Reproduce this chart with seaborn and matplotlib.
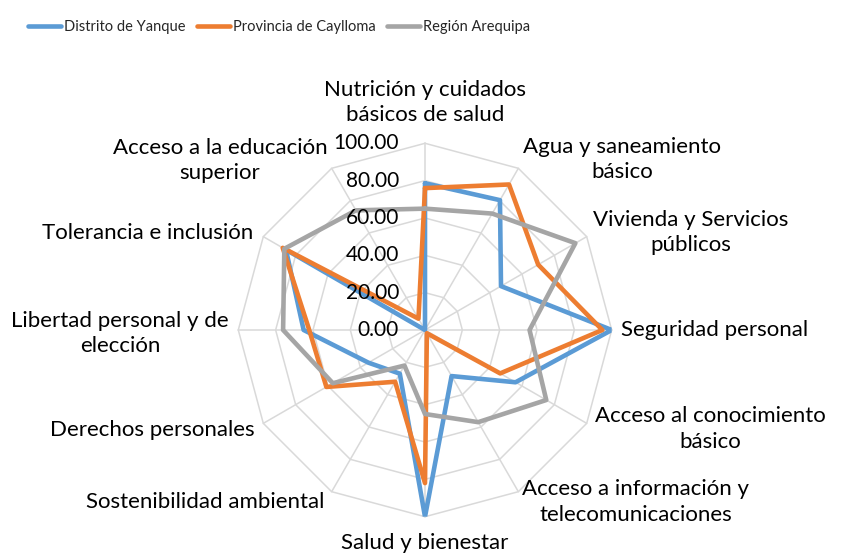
import numpy as np
import pandas as pd
import matplotlib
matplotlib.use("Agg")
import matplotlib.pyplot as plt
from matplotlib.transforms import offset_copy
import seaborn as sns

# Dimensions of the Social Progress Index, clockwise from the top
categories = [
    "Nutrición y cuidados\nbásicos de salud",
    "Agua y saneamiento\nbásico",
    "Vivienda y Servicios\npúblicos",
    "Seguridad personal",
    "Acceso al conocimiento\nbásico",
    "Acceso a información y\ntelecomunicaciones",
    "Salud y bienestar",
    "Sostenibilidad ambiental",
    "Derechos personales",
    "Libertad personal y de\nelección",
    "Tolerancia e inclusión",
    "Acceso a la educación\nsuperior",
]
series_names = ["Distrito de Yanque", "Provincia de Caylloma", "Región Arequipa"]
distrito = [78.6, 80.3, 47.0, 100.0, 56.0, 28.5, 100.0, 27.0, 35.0, 65.0, 86.0, 0.0]
provincia = [76.0, 90.0, 70.0, 95.0, 46.5, 2.0, 82.0, 32.0, 61.0, 62.0, 88.0, 7.0]
region = [65.0, 72.0, 93.0, 56.0, 75.0, 57.0, 45.0, 22.0, 57.0, 76.0, 87.0, 74.0]
r_ticks = [0, 20, 40, 60, 80, 100]

colors = ["#5B9BD5", "#ED7D31", "#A5A5A5"]
grid_color = "#D9D9D9"

sns.set_style("white")
plt.rcParams["font.family"] = ["Lato", "DejaVu Sans"]

W, H = 847, 554
fig = plt.figure(figsize=(W / 100, H / 100), dpi=100)

# polar axes centred at (425, 330) px with radius 186.7 px
cx, cy, R = 425, 330, 186.7
ax = fig.add_axes([(cx - R) / W, (H - cy - R) / H, 2 * R / W, 2 * R / H],
                  projection="polar")
ax.set_theta_zero_location("N")
ax.set_theta_direction(-1)
ax.set_ylim(0, 100)
ax.grid(False)
ax.set_xticks([])
ax.set_yticks([])
ax.spines["polar"].set_visible(False)
ax.patch.set_alpha(0)

n = len(categories)
theta = np.linspace(0, 2 * np.pi, n, endpoint=False)
theta_closed = np.append(theta, 2 * np.pi)

# polygonal grid and spokes
for lvl in r_ticks[1:]:
    ax.plot(theta_closed, [lvl] * (n + 1), color=grid_color, lw=1.1, zorder=0,
            clip_on=False)
for t in theta:
    ax.plot([t, t], [0, 100], color=grid_color, lw=1.1, zorder=0, clip_on=False)

# radial value labels along the top spoke
lbl_tr = offset_copy(ax.transData, fig=fig, x=-26, y=0, units="dots")
for lvl in r_ticks:
    ax.text(0, lvl, f"{lvl:.2f}", transform=lbl_tr, ha="right", va="center",
            fontsize=15, color="#000000")

# long-form table for seaborn
rows = []
for name, vals in zip(series_names, [distrito, provincia, region]):
    closed = list(vals) + [vals[0]]
    for t, v in zip(theta_closed, closed):
        rows.append({"theta": t, "value": v, "serie": name})
df = pd.DataFrame(rows)

sns.lineplot(data=df, x="theta", y="value", hue="serie", hue_order=series_names,
             palette=colors, sort=False, estimator=None, linewidth=3.3, ax=ax)
for line in ax.get_lines()[-3:]:
    line.set_clip_on(False)
    line.set_solid_joinstyle("round")
    line.set_solid_capstyle("round")
ax.set_xlabel("")
ax.set_ylabel("")

handles, labels = ax.get_legend_handles_labels()
if ax.get_legend() is not None:
    ax.get_legend().remove()
leg = fig.legend(handles, labels, loc="center left",
                 bbox_to_anchor=(28 / W, 1 - 27 / H),
                 ncol=3, frameon=False, fontsize=10.5, handlelength=2.26,
                 handletextpad=0.2, columnspacing=0.8, borderpad=0,
                 borderaxespad=0)
for lh in leg.get_lines():
    lh.set_linewidth(3.3)
    lh.set_solid_capstyle("round")

# category label anchors (block centres, px)
label_pos = [
    (425, 102.5), (622, 159.5), (691, 232.5), (715, 330), (710, 429),
    (636, 502), (425, 543), (205.5, 502), (152.5, 430), (120, 333.5),
    (148, 233), (220, 160.5),
]
for text, (px, py) in zip(categories, label_pos):
    fig.text(px / W, 1 - py / H, text, ha="center", va="center",
             multialignment="center", fontsize=16, linespacing=1.32,
             color="#000000")

fig.savefig("out.png", dpi=100)
